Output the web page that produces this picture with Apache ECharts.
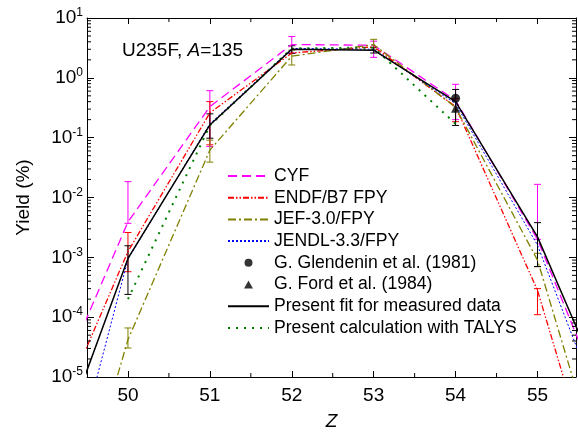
<!DOCTYPE html>
<html>
<head>
<meta charset="utf-8">
<script src="https://cdn.jsdelivr.net/npm/echarts@6/dist/echarts.min.js"></script>
<style>
  html, body { margin: 0; padding: 0; background: #fff; }
  #chart { width: 578px; height: 432px; }
</style>
</head>
<body>
<div id="chart"></div>
<script>
// Z values (49 and 56 only give the line slope past the frame)
const zValues = [49, 50, 51, 52, 53, 54, 55, 56];
const cyf   = [2.5e-6, 3.9e-3, 0.33, 3.6, 3.5, 0.42, 2.0e-3, 8.5e-7];
const endf  = [8.3e-7, 1.25e-3, 0.26, 2.6, 3.3, 0.33, 2.8e-4, 7.4e-9];
const jef   = [8.4e-10, 4.2e-5, 0.062, 2.3, 3.6, 0.32, 9.0e-4, 2.4e-8];
const jendl = [5.7e-9, 9.3e-4, 0.17, 3.1, 3.0, 0.37, 1.6e-3, 4.3e-7];
const fit   = [1.75e-7, 9.6e-4, 0.163, 3.0, 2.9, 0.40, 2.2e-3, 1.45e-6];
const talys = [null, 2.0e-4, 0.16, 3.1, 3.2, 0.17, null, null];

// measured points
const glendenin = [[54, 0.455]];
const ford = [[54, 0.31]];

// error bars: [Z, low, high]
const cyfErr  = [[50, 3.7e-3, 0.0184], [51, 0.071, 0.61], [52, 2.6, 4.9], [53, 2.2, 4.1], [54, 0.2, 0.78], [55, 2.0e-3, 0.0166]];
const endfErr = [[50, 5.75e-4, 2.6e-3], [51, 0.076, 0.40], [54, 0.185, 0.45], [55, 1.1e-4, 3.0e-4]];
const jefErr  = [[50, 3.05e-5, 6.6e-5], [51, 0.039, 0.091], [52, 1.64, 2.9], [53, 3.0, 4.4], [55, 7.0e-4, 1.17e-3]];
const fitErr  = [[50, 2.4e-4, 1.56e-3], [51, 0.098, 0.25], [52, 2.57, 3.44], [53, 2.6, 3.2], [54, 0.16, 0.64], [55, 7.0e-4, 3.8e-3]];

const xTicks = [50, 51, 52, 53, 54, 55];
const lineNames = ['CYF', 'ENDF/B7 FPY', 'JEF-3.0/FPY', 'JENDL-3.3/FPY'];
const pointNames = ['G. Glendenin et al. (1981)', 'G. Ford et al. (1984)'];
const lineNames2 = ['Present fit for measured data', 'Present calculation with TALYS'];

const FONT = 'Liberation Sans, Arial, sans-serif';
const X_MIN = 49.5, X_MAX = 55.47;

function pairs(arr) {
  const out = [];
  zValues.forEach(function (z, i) { if (arr[i] != null) out.push([z, arr[i]]); });
  return out;
}

function lineSeries(name, arr, color, width, dash, z) {
  return {
    name: name, type: 'line', data: pairs(arr), symbol: 'none', z: z || 2,
    lineStyle: { color: color, width: width, type: dash },
    itemStyle: { color: color }, silent: true, animation: false
  };
}

function errSeries(data, color) {
  return {
    type: 'custom', data: data, z: 1, animation: false, silent: true,
    encode: { x: 0, y: [1, 2] },
    renderItem: function (params, api) {
      const top = api.coord([api.value(0), api.value(2)]);
      const bot = api.coord([api.value(0), api.value(1)]);
      const w = 3.5;
      const st = { stroke: color, lineWidth: 1 };
      return {
        type: 'group', children: [
          { type: 'line', shape: { x1: top[0], y1: top[1], x2: bot[0], y2: bot[1] }, style: st },
          { type: 'line', shape: { x1: top[0] - w, y1: top[1], x2: top[0] + w, y2: top[1] }, style: st },
          { type: 'line', shape: { x1: bot[0] - w, y1: bot[1], x2: bot[0] + w, y2: bot[1] }, style: st }
        ]
      };
    }
  };
}

// minor ticks of the frame (log decades on Y, half units on Z)
const minorY = [];
for (let e = -5; e < 1; e++) for (let m = 2; m <= 9; m++) minorY.push([X_MIN, m * Math.pow(10, e)]);
const minorX = [[50.5, 1], [51.5, 1], [52.5, 1], [53.5, 1], [54.5, 1]];

const minorTickSeries = {
  type: 'custom', z: 5, animation: false, silent: true, clip: false,
  data: minorY,
  renderItem: function (params, api) {
    const cs = params.coordSys;
    const p = api.coord([api.value(0), api.value(1)]);
    const st = { stroke: '#000', lineWidth: 1 };
    return {
      type: 'group', children: [
        { type: 'line', shape: { x1: cs.x, y1: p[1], x2: cs.x + 4, y2: p[1] }, style: st },
        { type: 'line', shape: { x1: cs.x + cs.width, y1: p[1], x2: cs.x + cs.width - 4, y2: p[1] }, style: st }
      ]
    };
  }
};
const minorXSeries = {
  type: 'custom', z: 5, animation: false, silent: true, clip: false,
  data: minorX,
  renderItem: function (params, api) {
    const cs = params.coordSys;
    const p = api.coord([api.value(0), 1]);
    const st = { stroke: '#000', lineWidth: 1 };
    return {
      type: 'group', children: [
        { type: 'line', shape: { x1: p[0], y1: cs.y, x2: p[0], y2: cs.y + 4 }, style: st },
        { type: 'line', shape: { x1: p[0], y1: cs.y + cs.height, x2: p[0], y2: cs.y + cs.height - 4 }, style: st }
      ]
    };
  }
};

const chart = echarts.init(document.getElementById('chart'), null, { renderer: 'canvas' });

const axisLineStyle = { lineStyle: { color: '#000', width: 1 } };

// legend entries: plain line icons for curves, small marker icons for the data points
const noSymbol = { opacity: 0 };
const legendData = lineNames.map(function (n) { return { name: n, itemStyle: noSymbol }; })
  .concat([
    { name: pointNames[0], icon: 'circle' },
    { name: pointNames[1], icon: 'path://M5,0 L10,9 L0,9 Z' }
  ])
  .concat(lineNames2.map(function (n) { return { name: n, itemStyle: noSymbol }; }));

const option = {
  animation: false,
  backgroundColor: '#fff',
  textStyle: { fontFamily: FONT },
  title: {
    text: '{n|U235F, }{i|A}{n|=135}',
    left: 122, top: 41, padding: 0,
    textStyle: {
      fontWeight: 'normal',
      rich: {
        n: { fontSize: 19, fontFamily: FONT, color: '#000', fontWeight: 'normal' },
        i: { fontSize: 19, fontFamily: FONT, fontStyle: 'italic', color: '#000', fontWeight: 'normal' }
      }
    }
  },
  grid: { left: 87, right: 2, top: 18, bottom: 55, containLabel: false, outerBoundsMode: 'none' },
  legend: {
    orient: 'vertical', left: 222, top: 162,
    itemWidth: 41, itemHeight: 8, itemGap: 3.7,
    symbolKeepAspect: true,
    data: legendData,
    textStyle: { fontSize: 17.6, fontFamily: FONT, color: '#000', lineHeight: 18 },
    selectedMode: false
  },
  xAxis: [{
    type: 'value', min: X_MIN, max: X_MAX, position: 'bottom',
    name: 'Z', nameLocation: 'middle', nameGap: 35,
    nameTextStyle: { fontSize: 19, fontStyle: 'italic', color: '#000', fontFamily: FONT },
    axisLine: axisLineStyle,
    axisTick: { inside: true, length: 6, customValues: xTicks, lineStyle: { color: '#000' } },
    axisLabel: { customValues: xTicks, fontSize: 19, color: '#000', margin: 9, fontFamily: FONT },
    splitLine: { show: false }
  }, {
    type: 'value', min: X_MIN, max: X_MAX, position: 'top',
    axisLine: axisLineStyle,
    axisTick: { inside: true, length: 6, customValues: xTicks, lineStyle: { color: '#000' } },
    axisLabel: { show: false },
    splitLine: { show: false }
  }],
  yAxis: [{
    type: 'log', logBase: 10, min: 1e-5, max: 10, splitNumber: 6, position: 'left',
    name: 'Yield (%)', nameLocation: 'middle', nameGap: 54, nameRotate: 90,
    nameTextStyle: { fontSize: 19, color: '#000', fontFamily: FONT },
    axisLine: axisLineStyle,
    axisTick: { inside: true, length: 7, lineStyle: { color: '#000' } },
    axisLabel: {
      margin: 4,
      formatter: function (v) { return '{b|10}{s|' + Math.round(Math.log10(v)) + '}'; },
      rich: {
        b: { fontSize: 19, color: '#000', fontFamily: FONT },
        s: { fontSize: 12, color: '#000', fontFamily: FONT, verticalAlign: 'top', padding: [0, 0, 10, 0] }
      }
    },
    splitLine: { show: false }
  }, {
    type: 'log', logBase: 10, min: 1e-5, max: 10, splitNumber: 6, position: 'right',
    axisLine: axisLineStyle,
    axisTick: { inside: true, length: 7, lineStyle: { color: '#000' } },
    axisLabel: { show: false },
    splitLine: { show: false }
  }],
  series: [
    errSeries(cyfErr, '#ff00ff'),
    errSeries(endfErr, '#ff0000'),
    errSeries(jefErr, '#808000'),
    errSeries(fitErr, '#000000'),
    lineSeries('CYF', cyf, '#ff00ff', 1.3, [9, 5], 2),
    lineSeries('ENDF/B7 FPY', endf, '#ff0000', 1.3, [6, 2, 1.5, 2, 1.5, 2], 2),
    lineSeries('JEF-3.0/FPY', jef, '#808000', 1.3, [8, 3, 2, 3], 2),
    lineSeries('JENDL-3.3/FPY', jendl, '#0000ff', 1, [2, 2], 3),
    {
      name: pointNames[0], type: 'scatter', data: glendenin,
      symbol: 'circle', symbolSize: 9, itemStyle: { color: '#000' }, z: 6, silent: true
    },
    {
      name: pointNames[1], type: 'scatter', data: ford,
      symbol: 'triangle', symbolSize: 9, itemStyle: { color: '#000' }, z: 6, silent: true
    },
    lineSeries(lineNames2[0], fit, '#000000', 1.5, 'solid', 4),
    lineSeries(lineNames2[1], talys, '#008000', 2, [2, 6], 3),
    minorTickSeries,
    minorXSeries
  ]
};

chart.setOption(option);
</script>
</body>
</html>
